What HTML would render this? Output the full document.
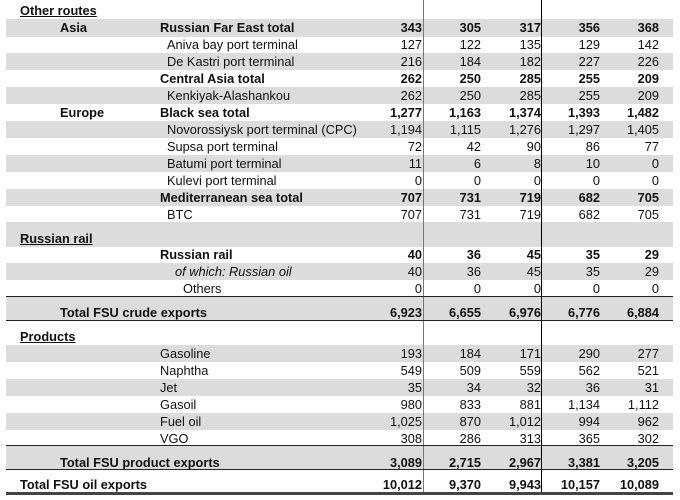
<!DOCTYPE html>
<html><head><meta charset="utf-8"><style>
body{margin:0;width:680px;height:500px;background:#fff;position:relative;overflow:hidden;font-family:"Liberation Sans",Arial,sans-serif;font-size:12.8px;color:#111}
.band{position:absolute;left:6px;width:667px;background:#dcdcdc}
.t{position:absolute;line-height:17px;height:17px;white-space:nowrap}
.n{position:absolute;line-height:17px;height:17px;text-align:right;width:70px}
.hl{position:absolute;left:6px;width:667px;background:#222}
.vl{position:absolute;width:1px}
</style></head><body>
<div class="band" style="top:19px;height:18px"></div>
<div class="band" style="top:53px;height:17px"></div>
<div class="band" style="top:87px;height:17px"></div>
<div class="band" style="top:121px;height:17px"></div>
<div class="band" style="top:155px;height:17px"></div>
<div class="band" style="top:189px;height:17px"></div>
<div class="band" style="top:222px;height:25px"></div>
<div class="band" style="top:263px;height:17px"></div>
<div class="band" style="top:297px;height:23px"></div>
<div class="band" style="top:345px;height:17px"></div>
<div class="band" style="top:379px;height:17px"></div>
<div class="band" style="top:413px;height:17px"></div>
<div class="band" style="top:446px;height:23px"></div>

<div class="vl" style="left:423px;top:0;height:492px;background:#777"></div>
<div class="vl" style="left:541px;top:0;height:492px;background:#000"></div>

<div class="hl" style="top:296px;height:1px"></div>
<div class="hl" style="top:320px;height:1px"></div>
<div class="hl" style="top:445px;height:1px"></div>
<div class="hl" style="top:469px;height:1px"></div>
<div class="hl" style="top:492px;height:3px;background:#444"></div>

<div id="rows"></div>
<script>
var R=[
[2,"Other routes",20,"bu"],
[19,"Asia",60,"b","Russian Far East total",160,"b",["343","305","317","356","368"],1],
[36,"","",""," Aniva bay port terminal",167,"",["127","122","135","129","142"]],
[53,"","","","De Kastri port terminal",167,"",["216","184","182","227","226"]],
[70,"","","","Central Asia total",160,"b",["262","250","285","255","209"],1],
[87,"","","","Kenkiyak-Alashankou",167,"",["262","250","285","255","209"]],
[104,"Europe",60,"b","Black sea total",160,"b",["1,277","1,163","1,374","1,393","1,482"],1],
[121,"","","","Novorossiysk port terminal (CPC)",167,"",["1,194","1,115","1,276","1,297","1,405"]],
[138,"","","","Supsa port terminal",167,"",["72","42","90","86","77"]],
[155,"","","","Batumi port terminal",167,"",["11","6","8","10","0"]],
[172,"","","","Kulevi port terminal",167,"",["0","0","0","0","0"]],
[189,"","","","Mediterranean sea total",160,"b",["707","731","719","682","705"],1],
[206,"","","","BTC",167,"",["707","731","719","682","705"]],
[230,"Russian rail",20,"bu"],
[246,"","","","Russian rail",160,"b",["40","36","45","35","29"],1],
[263,"","","","of which: Russian oil",175,"i",["40","36","45","35","29"]],
[280,"","","","Others",183,"",["0","0","0","0","0"]],
[304,"Total FSU crude exports",60,"b","","","",["6,923","6,655","6,976","6,776","6,884"],1],
[328,"Products",20,"bu"],
[345,"","","","Gasoline",160,"",["193","184","171","290","277"]],
[362,"","","","Naphtha",160,"",["549","509","559","562","521"]],
[379,"","","","Jet",160,"",["35","34","32","36","31"]],
[396,"","","","Gasoil",160,"",["980","833","881","1,134","1,112"]],
[413,"","","","Fuel oil",160,"",["1,025","870","1,012","994","962"]],
[430,"","","","VGO",160,"",["308","286","313","365","302"]],
[454,"Total FSU product exports",60,"b","","","",["3,089","2,715","2,967","3,381","3,205"],1],
[476,"Total FSU oil exports",20,"b","","","",["10,012","9,370","9,943","10,157","10,089"],1]
];
var rights=[422,481,541,600,659],h="";
function st(c){var s="";if(c.indexOf("b")>=0)s+="font-weight:bold;";if(c.indexOf("u")>=0)s+="text-decoration:underline;";if(c.indexOf("i")>=0)s+="font-style:italic;";return s;}
R.forEach(function(r){
 if(r[1])h+='<div class="t" style="top:'+r[0]+'px;left:'+r[2]+'px;'+st(r[3])+'">'+r[1]+'</div>';
 if(r[4])h+='<div class="t" style="top:'+r[0]+'px;left:'+r[5]+'px;'+st(r[6])+'">'+r[4].trim()+'</div>';
 if(r[7])r[7].forEach(function(v,i){h+='<div class="n" style="top:'+r[0]+'px;left:'+(rights[i]-70)+'px;'+(r[8]?'font-weight:bold;':'')+'">'+v+'</div>';});
});
document.getElementById("rows").innerHTML=h;
</script>
</body></html>
